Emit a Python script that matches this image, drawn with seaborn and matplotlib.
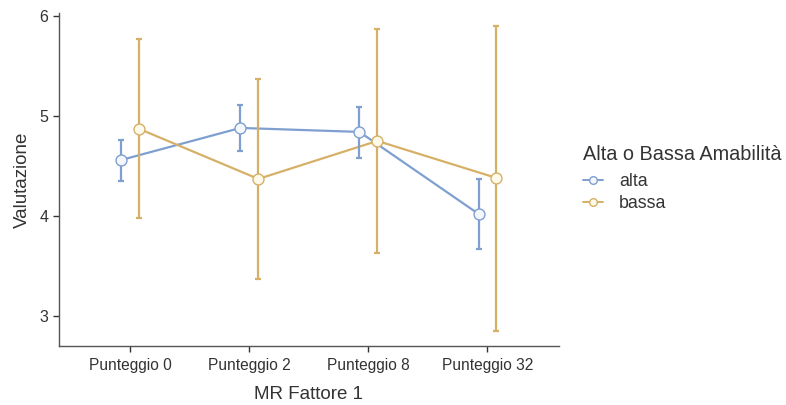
import matplotlib
matplotlib.use("Agg")
import matplotlib.pyplot as plt
from matplotlib.lines import Line2D
import seaborn as sns
import pandas as pd
import numpy as np

# Means and 95% confidence limits per score level and group
categorie = ["Punteggio 0", "Punteggio 2", "Punteggio 8", "Punteggio 32"]
gruppi = ["alta", "bassa"]
media_alta = [4.56, 4.88, 4.84, 4.02]
inf_alta = [4.35, 4.65, 4.58, 3.67]
sup_alta = [4.76, 5.11, 5.09, 4.37]
media_bassa = [4.87, 4.37, 4.75, 4.38]
inf_bassa = [3.98, 3.37, 3.63, 2.85]
sup_bassa = [5.77, 5.37, 5.87, 5.90]

colori = {"alta": "#7f9fd0", "bassa": "#d6b067"}
riempimento = {"alta": "#f4f7fc", "bassa": "#fdfaea"}

sns.set_theme(style="ticks")
plt.rcParams["font.family"] = ["Liberation Sans", "DejaVu Sans"]
testo = "#333333"

df = pd.DataFrame({
    "MR Fattore 1": categorie * 2,
    "Alta o Bassa Amabilità": ["alta"] * 4 + ["bassa"] * 4,
    "Valutazione": media_alta + media_bassa,
})

fig = plt.figure(figsize=(7.86, 4.05), dpi=100)
ax = fig.add_axes([0.075, 0.146, 0.636, 0.822])

sns.pointplot(
    data=df, x="MR Fattore 1", y="Valutazione", hue="Alta o Bassa Amabilità",
    order=categorie, hue_order=gruppi, palette=colori, dodge=0.15,
    errorbar=None, markers="o", linewidth=1.6, markersize=0, ax=ax,
)

limiti = {"alta": (inf_alta, sup_alta, media_alta), "bassa": (inf_bassa, sup_bassa, media_bassa)}
for linea, g in zip(ax.lines[:2], gruppi):
    xs = np.asarray(linea.get_xdata(), dtype=float)
    lo, hi, m = limiti[g]
    m = np.array(m)
    ax.errorbar(xs, m, yerr=[m - np.array(lo), np.array(hi) - m], fmt="none",
                ecolor=colori[g], elinewidth=1.6, capsize=2.2, capthick=1.6, zorder=2)
    ax.scatter(xs, m, s=62, facecolor=riempimento[g], edgecolor=colori[g],
               linewidth=1.0, zorder=4)

ax.set_xlim(-0.6, 3.6)
ax.set_ylim(2.7, 6.03)
ax.set_yticks([3, 4, 5, 6])
sns.despine(ax=ax)
for s in ("left", "bottom"):
    ax.spines[s].set_color("#555555")
    ax.spines[s].set_linewidth(1.0)
ax.tick_params(axis="both", colors="#333333", labelcolor=testo, length=4, width=1.0)
ax.tick_params(axis="x", labelsize=11.2, pad=5)
ax.tick_params(axis="y", labelsize=11.5)
ax.set_xlabel("MR Fattore 1", fontsize=13.5, color=testo, labelpad=9)
ax.set_ylabel("Valutazione", fontsize=13.5, color=testo, labelpad=6)

if ax.get_legend() is not None:
    ax.get_legend().remove()
maniglie = [Line2D([0], [0], color=colori[g], lw=1.4, marker="o", markersize=5.5,
                   markerfacecolor=riempimento[g], markeredgecolor=colori[g]) for g in gruppi]
leg = fig.legend(maniglie, gruppi, title="Alta o Bassa Amabilità", loc="upper left",
                 bbox_to_anchor=(0.731, 0.665), frameon=False, fontsize=12.8,
                 title_fontsize=14.3, handlelength=1.1, handletextpad=0.9,
                 labelspacing=0.28, borderpad=0)
leg._legend_box.align = "left"
leg._legend_box.sep = 7
for t in leg.get_texts():
    t.set_color(testo)
leg.get_title().set_color(testo)

fig.savefig("out.png", dpi=100)
